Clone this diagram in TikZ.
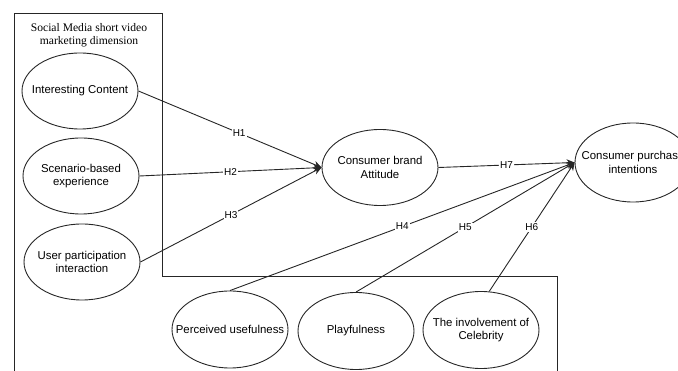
\documentclass[tikz,border=0pt]{standalone}
\usepackage{fontspec}
\setmainfont{Liberation Sans}
\newfontfamily\titlefont{Liberation Serif}
\usetikzlibrary{shapes.geometric, arrows.meta, positioning}

\begin{document}
\begin{tikzpicture}[x=1pt, y=-1pt,
  var/.style={ellipse, draw=black!85, line width=0.9pt, minimum width=116pt, minimum height=76pt, inner sep=0pt},
  txt/.style={align=center, font=\fontsize{11.4}{13.5}\selectfont},
  hyp/.style={fill=white, inner sep=1pt, font=\fontsize{10}{12}\selectfont},
  flecha/.style={line width=0.9pt, draw=black!85, -{Stealth[length=8pt, width=7pt]}}]
  \useasboundingbox (0,0) rectangle (678,371);

  % Marco
  \draw[line width=0.9pt, black!85] (14,371) -- (14,13) -- (162,13) -- (162,276) -- (557,276) -- (557,371);
  \node[align=center, font=\titlefont\fontsize{11.6}{13.5}\selectfont] (titulo) at (89,35) {Social Media short video\\marketing dimension};

  % Variables
  \node[var, label={[txt]center:Interesting Content}] (ic) at (80,91) {};
  \node[var, label={[txt]center:Scenario-based\\experience}] (sc) at (81,176) {};
  \node[var, label={[txt]center:User participation\\interaction}] (up) at (82,262) {};
  \node[var, label={[txt]center:Consumer brand\\Attitude}] (cba) at (380,167.5) {};
  \node[var, minimum height=79pt, label={[txt]center:Consumer purchase\\intentions}] (cpi) at (633,162.5) {};
  \node[var, minimum height=77pt, label={[txt]center:Perceived usefulness}] (pu) at (230,329.5) {};
  \node[var, minimum height=77pt, label={[txt]center:Playfulness}] (pl) at (356,331) {};
  \node[var, minimum height=77pt, label={[txt]center:The involvement of\\Celebrity}] (ce) at (481,330) {};

  % Hipotesis
  \draw[flecha] (ic.east) -- node[hyp, pos=0.55] {H1} (cba.west);
  \draw[flecha] (sc.east) -- node[hyp] {H2} (cba.west);
  \draw[flecha] (up.east) -- node[hyp] {H3} (cba.west);
  \draw[flecha] (pu.north) -- node[hyp] {H4} (cpi.west);
  \draw[flecha] (pl.north) -- node[hyp] {H5} (cpi.west);
  \draw[flecha] (ce.78) -- node[hyp] {H6} (cpi.west);
  \draw[flecha] (cba.east) -- node[hyp] {H7} (cpi.west);

\end{tikzpicture}
\end{document}
